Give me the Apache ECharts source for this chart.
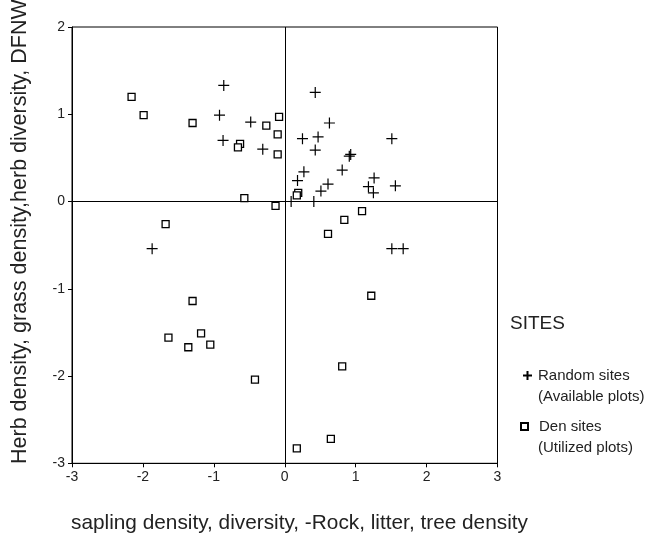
<!DOCTYPE html>
<html>
<head>
<meta charset="utf-8">
<script src="https://cdn.jsdelivr.net/npm/echarts@6/dist/echarts.min.js"></script>
<style>
  html, body { margin: 0; padding: 0; background: #fff; }
  #container { width: 652px; height: 538px; }
</style>
</head>
<body>
<div id="container"></div>
<script>
var dom = document.getElementById('container');
var myChart = echarts.init(dom, null, { renderer: 'canvas' });

// Random sites (Available plots)
const randomX = [-0.86, 0.43, -0.92, -0.48, 0.63, -0.87, 0.25, 0.47, 1.51, -0.31, 0.43, 0.91, 0.93, 0.27, 0.81, 0.18, 1.26, 0.61, 0.51, 1.18, 1.25, 1.56, 0.09, 0.41, -1.87, 1.51, 1.67];
const randomY = [1.33, 1.25, 0.99, 0.91, 0.90, 0.70, 0.72, 0.74, 0.72, 0.60, 0.59, 0.52, 0.54, 0.34, 0.36, 0.24, 0.27, 0.20, 0.12, 0.17, 0.10, 0.18, 0.00, 0.00, -0.54, -0.54, -0.54];

// Den sites (Utilized plots)
const denX = [-2.16, -1.99, -1.30, -0.63, -0.66, -0.26, -0.08, -0.10, -0.10, -0.57, -0.13, 0.19, 0.17, 1.09, 0.84, 0.61, -1.68, -1.30, 1.22, -1.64, -1.18, -1.36, -1.05, -0.42, 0.81, 0.65, 0.17];
const denY = [1.20, 0.99, 0.90, 0.66, 0.62, 0.87, 0.97, 0.77, 0.54, 0.04, -0.05, 0.10, 0.07, -0.11, -0.21, -0.37, -0.26, -1.14, -1.08, -1.56, -1.51, -1.67, -1.64, -2.04, -1.89, -2.72, -2.83];

const seriesNames = ['Random sites', 'Den sites'];
const seriesNotes = ['(Available plots)', '(Utilized plots)'];
const xTitle = 'sapling density, diversity, -Rock, litter, tree density';
const yTitle = 'Herb density, grass density,herb diversity, DFNW';

const plusPath = 'path://M0,5L10,5M5,0L5,10';
const font = "'Liberation Sans', Arial, sans-serif";
const textColor = '#222';

function pairs(xs, ys) {
    let out = [];
    for (let i = 0; i < xs.length; i++) {
        out.push([xs[i], ys[i]]);
    }
    return out;
}

function axis(min, max) {
    return {
        type: 'value',
        min: min,
        max: max,
        interval: 1,
        splitLine: { show: false },
        axisLine: { onZero: false, lineStyle: { color: '#000', width: 1 } },
        axisTick: { length: 4, lineStyle: { color: '#000' } },
        axisLabel: { color: textColor, fontSize: 14, fontFamily: font, margin: 7 }
    };
}

option = {
    animation: false,
    title: {
        text: 'SITES',
        left: 505,
        top: 309,
        textStyle: { color: textColor, fontSize: 19, fontWeight: 'normal', fontFamily: font }
    },
    grid: {
        left: 72,
        top: 27,
        right: 154.5,
        bottom: 74.7,
        show: true,
        borderColor: '#000',
        borderWidth: 1
    },
    xAxis: axis(-3, 3),
    yAxis: axis(-3, 2),
    legend: [
        {
            data: [seriesNames[0]],
            left: 517,
            top: 363,
            itemWidth: 9,
            itemHeight: 9,
            textStyle: { color: textColor, fontSize: 15, fontFamily: font, padding: [0, 0, 0, 1] }
        },
        {
            data: [seriesNames[1]],
            left: 515,
            top: 414,
            itemWidth: 7,
            itemHeight: 7,
            textStyle: { color: textColor, fontSize: 15, fontFamily: font, padding: [0, 0, 0, 6] }
        }
    ],
    graphic: [
        {
            type: 'text',
            x: 538,
            y: 397,
            style: { text: seriesNotes[0], fill: textColor, font: '15px ' + font, textVerticalAlign: 'middle' }
        },
        {
            type: 'text',
            x: 538,
            y: 448,
            style: { text: seriesNotes[1], fill: textColor, font: '15px ' + font, textVerticalAlign: 'middle' }
        },
        {
            type: 'text',
            x: 71,
            y: 523,
            style: { text: xTitle, fill: textColor, font: '20.8px ' + font, textVerticalAlign: 'middle' }
        },
        {
            type: 'text',
            x: 20,
            y: 464,
            rotation: Math.PI / 2,
            style: { text: yTitle, fill: textColor, font: '21.5px ' + font, textVerticalAlign: 'middle' }
        }
    ],
    series: [
        {
            name: seriesNames[0],
            type: 'scatter',
            data: pairs(randomX, randomY),
            symbol: plusPath,
            symbolSize: 11,
            itemStyle: { color: 'transparent', borderColor: '#000', borderWidth: 1.2, opacity: 1 },
            markLine: {
                silent: true,
                symbol: 'none',
                label: { show: false },
                lineStyle: { color: '#000', width: 1, type: 'solid' },
                data: [{ xAxis: 0 }, { yAxis: 0 }]
            }
        },
        {
            name: seriesNames[1],
            type: 'scatter',
            data: pairs(denX, denY),
            symbol: 'rect',
            symbolSize: 7,
            itemStyle: { color: '#fff', borderColor: '#000', borderWidth: 1.3, opacity: 1 }
        }
    ]
};

if (option && typeof option === 'object') {
    myChart.setOption(option);
}

window.addEventListener('resize', myChart.resize);
</script>
</body>
</html>
